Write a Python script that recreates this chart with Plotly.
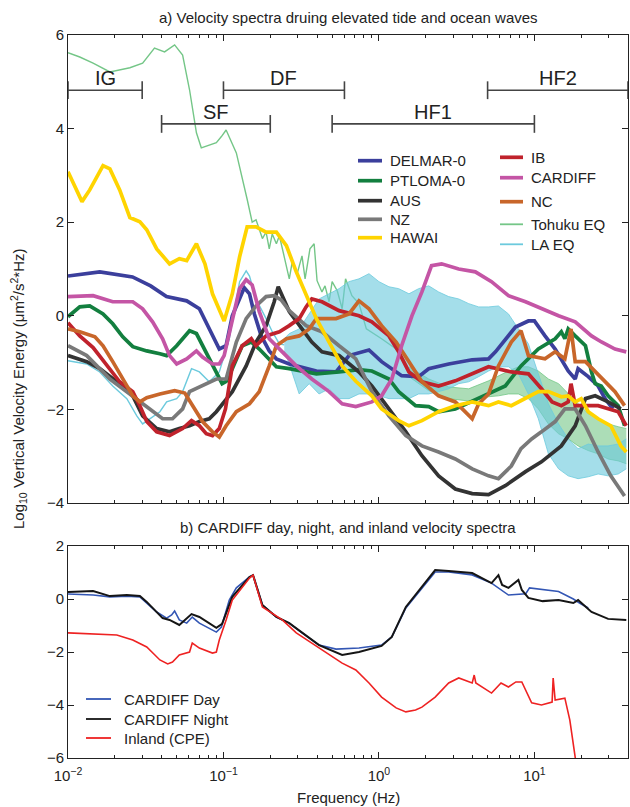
import math
import plotly.graph_objects as go

# ---------------- panel a: velocity spectra (log10 energy vs frequency in Hz) ----------------
DELMAR_F = [0.01, 0.016, 0.026, 0.034, 0.043, 0.058, 0.070, 0.081, 0.094, 0.104, 0.114, 0.136, 0.147,
            0.158, 0.175, 0.197, 0.219, 0.265, 0.294, 0.356, 0.396, 0.53, 0.642, 0.863, 1.04, 1.40,
            1.80, 2.09, 2.81, 3.98, 5.07, 5.62, 6.52, 7.55, 9.15, 10.0, 11.7, 13.6, 16.5, 18.3, 19.1,
            22.2, 25.7, 28.5, 32.0]
DELMAR_V = [0.85, 0.94, 0.83, 0.64, 0.41, 0.32, 0.15, -0.28, -0.71, -0.64, 0.0, 0.60, 0.47,
            0.04, -0.43, -0.75, -0.92, -1.03, -1.07, -1.13, -1.18, -1.20, -0.85, -0.73, -0.98, -1.28,
            -1.30, -1.13, -1.03, -0.94, -0.92, -0.77, -0.49, -0.24, -0.11, -0.11, -0.43, -0.71, -1.18,
            -1.35, -1.13, -1.30, -1.50, -1.77, -1.99]

PTLOMA_F = [0.01, 0.0119, 0.0138, 0.0168, 0.0194, 0.0225, 0.0261, 0.0321, 0.039, 0.0431, 0.050,
            0.0605, 0.067, 0.078, 0.090, 0.098, 0.104, 0.114, 0.132, 0.151, 0.170, 0.197, 0.219,
            0.265, 0.32, 0.396, 0.554, 0.744, 0.90, 1.16, 1.34, 1.72, 2.09, 2.42, 3.1, 3.98, 5.07,
            6.5, 8.2, 10.6, 13.6, 14.9, 15.7, 16.5, 18.3, 21.3, 23.3, 24.6, 26.9, 29.8, 34.6, 38.0]
PTLOMA_V = [-0.02, 0.19, 0.21, 0.04, -0.17, -0.45, -0.66, -0.75, -0.81, -0.85, -0.64,
            -0.32, -0.38, -0.81, -1.18, -1.45, -1.40, -1.13, -0.64, -0.56, -0.71, -0.92, -1.09,
            -1.13, -1.18, -1.24, -1.20, -1.15, -1.18, -1.35, -1.62, -1.92, -1.94, -2.05, -1.99,
            -1.82, -1.67, -1.50, -1.07, -0.71, -0.49, -0.34, -0.49, -0.28, -0.43, -0.64, -1.20,
            -1.45, -1.50, -1.71, -1.92, -2.35]

AUS_F = [0.01, 0.0132, 0.016, 0.0206, 0.0261, 0.0302, 0.0372, 0.045, 0.052, 0.0605, 0.070, 0.081,
         0.090, 0.114, 0.140, 0.162, 0.188, 0.212, 0.225, 0.265, 0.32, 0.37, 0.43, 0.554, 0.744,
         0.90, 1.16, 1.49, 1.89, 2.42, 3.1, 3.98, 5.07, 6.5, 8.77, 11.1, 14.9, 18.3, 21.3, 24.6,
         29.8, 36.0]
AUS_V = [-0.85, -0.98, -1.13, -1.41, -1.71, -2.14, -2.41, -2.48, -2.41, -2.35, -2.26, -2.20,
         -2.05, -1.62, -1.07, -0.56, -0.21, 0.30, 0.62, 0.09, -0.28, -0.56, -0.77, -0.85, -1.20,
         -1.50, -1.99, -2.48, -2.99, -3.42, -3.70, -3.80, -3.82, -3.63, -3.33, -3.12, -2.78, -2.35,
         -1.77, -1.71, -1.84, -1.99]

NZ_F = [0.01, 0.0132, 0.0186, 0.0261, 0.0336, 0.0406, 0.047, 0.0546, 0.0605, 0.0733, 0.090, 0.104,
        0.121, 0.140, 0.162, 0.188, 0.212, 0.235, 0.265, 0.34, 0.43, 0.554, 0.71, 0.90, 1.16, 1.49,
        1.89, 2.42, 3.1, 3.98, 5.07, 5.87, 7.1, 8.2, 9.6, 11.1, 13.6, 15.7, 18.3, 21.3, 25.7, 31.0,
        38.0]
NZ_V = [-0.64, -0.85, -1.35, -1.71, -1.99, -2.20, -2.20, -1.99, -1.62, -1.50, -1.35, -1.35,
        -0.56, -0.06, 0.21, 0.41, 0.43, 0.34, 0.11, -0.21, -0.34, -0.64, -0.92, -1.62, -2.14, -2.56,
        -2.78, -2.91, -3.06, -3.27, -3.42, -3.48, -3.21, -2.84, -2.63, -2.48, -2.26, -1.99, -1.99,
        -2.35, -2.91, -3.42, -3.85]

HAWAI_F = [0.01, 0.0123, 0.0138, 0.0168, 0.0186, 0.0215, 0.025, 0.029, 0.0321, 0.0372, 0.045, 0.052,
           0.058, 0.067, 0.076, 0.085, 0.101, 0.114, 0.127, 0.142, 0.162, 0.188, 0.219, 0.254, 0.294,
           0.34, 0.396, 0.478, 0.58, 0.71, 0.90, 1.04, 1.34, 1.56, 1.89, 2.42, 3.1, 3.98, 5.07, 5.87,
           7.1, 9.15, 10.6, 12.3, 14.9, 16.5, 18.3, 20.0, 22.2, 25.7, 31.0, 36.0, 39.0]
HAWAI_V = [3.08, 2.44, 2.69, 3.21, 3.14, 2.69, 2.10, 2.01, 1.84, 1.43, 1.11, 1.22,
           1.18, 1.54, 1.11, 0.47, -0.11, 0.47, 1.26, 1.90, 1.90, 1.79, 1.79, 1.50, 0.94,
           0.43, -0.06, -0.56, -1.07, -1.40, -1.71, -1.99, -2.24, -2.35, -2.24, -2.05, -1.92, -1.84,
           -1.92, -1.84, -1.92, -1.73, -1.62, -1.62, -1.73, -1.71, -1.84, -1.77, -2.05, -2.20,
           -2.35, -2.78, -2.91]

IB_F = [0.01, 0.0119, 0.0145, 0.0186, 0.0215, 0.0261, 0.029, 0.0321, 0.0372, 0.045, 0.0546, 0.0623,
        0.070, 0.0775, 0.085, 0.094, 0.103, 0.114, 0.132, 0.151, 0.162, 0.188, 0.229, 0.265, 0.307,
        0.34, 0.37, 0.43, 0.554, 0.744, 0.90, 1.16, 1.34, 1.56, 1.89, 2.42, 3.1, 3.98, 5.07, 7.1,
        9.15, 11.1, 13.0, 14.9, 16.5, 17.2, 18.3, 25.7, 29.8, 34.6, 39.0]
IB_V = [-0.15, -0.43, -0.68, -1.13, -1.41, -1.62, -1.92, -2.26, -2.48, -2.56, -2.41, -2.24,
        -2.35, -2.52, -2.56, -2.41, -1.99, -1.07, -0.64, -0.49, -0.64, -0.43, -0.34, -0.21, -0.06,
        0.19, 0.36, 0.30, 0.11, 0.0, -0.13, -0.43, -0.77, -1.20, -1.41, -1.50, -1.39, -1.24, -1.09,
        -1.20, -1.24, -1.56, -1.84, -1.92, -1.84, -1.45, -1.92, -1.92, -1.99, -2.05, -2.35]

CARDIFF_F = [0.01, 0.0145, 0.0194, 0.0261, 0.0302, 0.035, 0.0406, 0.045, 0.050, 0.058, 0.067,
             0.0733, 0.085, 0.094, 0.101, 0.114, 0.127, 0.140, 0.153, 0.170, 0.197, 0.239, 0.294,
             0.37, 0.478, 0.58, 0.71, 0.90, 1.04, 1.21, 1.40, 1.63, 1.89, 2.18, 2.53, 3.26, 4.17,
             5.3, 6.81, 8.77, 11.1, 14.3, 18.3, 23.3, 27.0, 33.0, 39.0]
CARDIFF_V = [0.41, 0.43, 0.30, 0.30, 0.15, -0.13, -0.49, -0.85, -1.03, -0.92, -0.75,
             -0.88, -1.03, -1.03, -0.85, -0.06, 0.58, 0.77, 0.66, 0.09, -0.49, -0.77, -1.07,
             -1.35, -1.62, -1.88, -1.94, -1.84, -1.71, -1.35, -0.64, 0.0, 0.51, 1.07, 1.11, 1.00,
             0.94, 0.73, 0.43, 0.30, 0.15, 0.0, -0.13, -0.43, -0.56, -0.71, -0.77]

NC_F = [0.01, 0.0119, 0.0149, 0.0168, 0.0194, 0.0225, 0.0261, 0.029, 0.0321, 0.039, 0.0485, 0.0564,
        0.063, 0.0733, 0.085, 0.094, 0.104, 0.121, 0.147, 0.170, 0.197, 0.219, 0.254, 0.307, 0.356,
        0.396, 0.53, 0.642, 0.744, 0.863, 1.04, 1.29, 1.56, 1.89, 2.42, 3.1, 3.98, 4.38, 5.07, 5.87,
        7.1, 8.2, 9.15, 11.7, 13.6, 15.7, 17.2, 18.3, 21.3, 24.6, 28.5, 33.0, 38.0]
NC_V = [-0.28, -0.34, -0.45, -0.64, -0.98, -1.35, -1.71, -1.84, -1.75, -1.67, -1.60, -1.65,
        -1.92, -2.26, -2.48, -2.59, -2.35, -2.05, -1.88, -1.62, -1.07, -0.64, -0.49, -0.43, -0.28,
        -0.06, -0.06, 0.04, 0.32, 0.15, -0.21, -0.56, -0.98, -1.41, -1.71, -1.84, -2.20, -1.88,
        -1.67, -1.07, -0.56, -0.32, -0.85, -0.92, -0.77, -0.92, -0.28, -0.98, -0.98, -1.20, -1.41,
        -1.62, -1.92]

# Tohuku EQ: single trace below 1.6 Hz, spread (upper / lower envelope) above it
TOHUKU_F = [0.01, 0.0119, 0.0145, 0.0186, 0.025, 0.0302, 0.036, 0.0418, 0.0485, 0.0546, 0.0605,
            0.067, 0.072, 0.081, 0.090, 0.097, 0.104, 0.121, 0.130, 0.142, 0.153, 0.162, 0.178,
            0.188, 0.197, 0.206, 0.219, 0.229, 0.246, 0.265, 0.277, 0.298, 0.32, 0.335, 0.36, 0.383,
            0.40, 0.43, 0.45, 0.478, 0.50, 0.54, 0.58, 0.61, 0.67, 0.744, 0.83, 0.93, 1.04, 1.29, 1.56]
TOHUKU_V = [5.62, 5.53, 5.40, 5.21, 5.30, 5.40, 5.72, 5.64, 5.79, 5.57, 4.83,
            3.91, 3.59, 3.65, 3.70, 3.83, 3.97, 3.48, 3.06, 2.49, 2.00, 2.05, 1.65,
            1.79, 1.43, 1.75, 1.54, 1.71, 1.26, 0.79, 1.15, 0.90, 1.28, 0.79, 1.43, 1.54,
            0.75, 0.51, 0.64, 0.30, 0.73, 0.53, 0.15, 0.79, 0.43, 0.26, -0.28, -0.38, -0.49, -0.71,
            -1.20]
TOHUKU_SPREAD_F = [1.56, 2.09, 2.81, 3.78, 5.07, 5.87, 6.81, 7.89, 9.15, 10.6, 12.3, 14.3, 16.5,
                   19.1, 22.2, 25.7, 29.8, 34.6, 39.0]
TOHUKU_HI = [-1.09, -1.35, -1.52, -1.56, -1.39, -1.28, -1.18, -1.09, -1.09, -1.18, -1.35, -1.45,
             -1.67, -1.88, -2.09, -2.20, -2.31, -2.37, -2.41]
TOHUKU_LO = [-1.30, -1.60, -1.77, -1.82, -1.73, -1.71, -1.67, -1.67, -1.77, -1.99, -2.31, -2.52,
             -2.63, -2.78, -2.88, -2.95, -3.06, -3.10, -3.16]

# LA EQ: single trace below 0.25 Hz, spread above it
LAEQ_F = [0.01, 0.0132, 0.016, 0.0194, 0.0239, 0.0277, 0.0302, 0.0336, 0.039, 0.0431, 0.050, 0.0546,
          0.0623, 0.070, 0.081, 0.094, 0.109, 0.127, 0.140, 0.147, 0.162, 0.188, 0.206, 0.229, 0.246]
LAEQ_V = [-0.96, -1.03, -1.20, -1.50, -1.77, -2.14, -2.31, -2.20, -2.05, -1.84, -1.77, -1.62,
          -1.13, -1.20, -1.41, -1.20, -0.49, 0.73, 0.96, 0.85, 0.36, -0.06, -0.34, -0.60, -0.62]
LAEQ_SPREAD_F = [0.246, 0.265, 0.307, 0.356, 0.412, 0.478, 0.554, 0.642, 0.744, 0.863, 1.0, 1.16,
                 1.34, 1.56, 1.80, 2.09, 2.42, 2.81, 3.26, 3.78, 4.38, 5.07, 5.87, 6.81, 7.89, 9.15,
                 10.6, 12.3, 14.3, 16.5, 19.1, 22.2, 25.7, 29.8, 34.6, 39.0]
LAEQ_HI = [-0.49, -0.38, -0.28, 0.04, 0.36, 0.47, 0.58, 0.73, 0.79, 0.90, 0.73, 0.62,
           0.58, 0.47, 0.58, 0.64, 0.51, 0.41, 0.36, 0.26, 0.19, 0.19, 0.21, 0.04, -0.28, -0.60,
           -1.24, -1.88, -2.31, -2.63, -2.84, -2.74, -2.78, -2.78, -2.74, -2.63]
LAEQ_LO = [-0.75, -1.03, -1.67, -1.45, -1.67, -1.56, -1.77, -1.77, -1.67, -1.67, -1.71, -1.77,
           -1.77, -1.77, -1.67, -1.67, -1.62, -1.56, -1.45, -1.41, -1.30, -1.18, -1.09, -1.09,
           -1.24, -1.67, -2.20, -2.95, -3.27, -3.42, -3.48, -3.44, -3.38, -3.42, -3.38, -3.27]

# frequency bands marked across the top of panel a
BAND_NAMES = ["IG", "SF", "DF", "HF1", "HF2"]
BAND_LO = [0.01, 0.04, 0.1, 0.5, 5.0]
BAND_HI = [0.03, 0.2, 0.6, 10.0, 40.0]
BAND_LEVEL = [4.82, 4.10, 4.82, 4.10, 4.82]

# ---------------- panel b: CARDIFF day / night and inland ----------------
DAY_F = [0.01, 0.0145, 0.0186, 0.0239, 0.029, 0.0321, 0.0372, 0.0431, 0.0464, 0.0485, 0.052, 0.058,
         0.063, 0.070, 0.0775, 0.090, 0.097, 0.109, 0.121, 0.147, 0.155, 0.178, 0.219, 0.265, 0.32,
         0.412, 0.53, 0.744, 1.04, 1.21, 1.49, 1.89, 2.30, 2.81, 3.98, 5.3, 6.81, 8.8, 9.3, 14.3,
         17.8, 19.5, 22.2]
DAY_V = [0.19, 0.15, 0.08, 0.11, 0.08, -0.15, -0.49, -0.72, -0.60, -0.45, -0.79, -0.91,
         -0.68, -0.91, -1.06, -1.25, -1.06, -0.04, 0.42, 0.83, 0.90, -0.23, -0.68, -0.91, -1.28,
         -1.74, -1.89, -1.85, -1.74, -1.43, -0.34, 0.42, 1.02, 1.02, 0.91, 0.60, 0.15, 0.20, 0.42,
         0.28, 0.0, -0.15, -0.34]

NIGHT_F = [0.01, 0.0145, 0.0186, 0.0239, 0.029, 0.0321, 0.0406, 0.045, 0.052, 0.0623, 0.070, 0.081,
           0.090, 0.098, 0.114, 0.147, 0.155, 0.178, 0.219, 0.265, 0.32, 0.412, 0.58, 0.744, 1.04,
           1.21, 1.49, 1.89, 2.30, 2.81, 3.98, 5.3, 5.87, 6.2, 6.81, 7.89, 8.3, 9.15, 11.3, 14.3,
           17.8, 19.1, 23.3, 29.8, 39.0]
NIGHT_V = [0.26, 0.30, 0.11, 0.15, 0.11, -0.11, -0.72, -0.79, -0.98, -0.57, -0.68, -0.91,
           -1.09, -0.94, 0.08, 0.83, 0.90, -0.23, -0.68, -0.91, -1.28, -1.74, -2.11, -2.00, -1.77,
           -1.43, -0.30, 0.45, 1.09, 1.06, 0.98, 0.60, 0.90, 0.53, 0.42, 0.72, 0.34, 0.04, -0.08,
           -0.04, -0.15, -0.04, -0.49, -0.75, -0.79]

INLAND_F = [0.01, 0.0206, 0.0261, 0.0321, 0.039, 0.0438, 0.047, 0.052, 0.0605, 0.063, 0.070, 0.0775,
            0.085, 0.090, 0.094, 0.104, 0.114, 0.147, 0.155, 0.178, 0.239, 0.294, 0.43, 0.58, 0.71,
            0.863, 1.04, 1.29, 1.49, 1.72, 1.89, 2.30, 2.81, 3.26, 3.98, 4.1, 4.2, 5.3, 6.1, 6.81,
            7.6, 8.3, 9.6, 11.1, 13.0, 13.2, 13.6, 15.7, 16.9, 18.3, 18.8]
INLAND_V = [-1.28, -1.36, -1.55, -1.81, -2.30, -2.45, -2.38, -2.11, -2.00, -1.66, -1.85, -1.96,
            -2.04, -2.00, -1.55, -0.79, -0.04, 0.79, 0.90, -0.30, -0.79, -1.28, -1.92, -2.42, -2.68,
            -3.17, -3.70, -4.11, -4.26, -4.19, -4.08, -3.70, -3.17, -2.98, -3.17, -2.87, -3.17,
            -3.55, -3.17, -3.32, -3.13, -3.13, -3.92, -4.00, -3.89, -2.98, -3.81, -3.74, -4.57,
            -5.81, -6.45]

# ---------------- styling ----------------
FONT = "Liberation Sans, Arial, Helvetica, sans-serif"
TXT = "#222222"
AXC = "#222222"

W, H = 630, 807
ML, MR, MT, MB = 68, 2, 35, 49
PW, PH = W - ML - MR, H - MT - MB


def px_x(px):
    return (px - ML) / PW


def px_y(py):
    return (H - MB - py) / PH


THICK = 3.7
THIN = 1.4

top_series = [
    ("DELMAR-0", DELMAR_F, DELMAR_V, "#3b3f9c"),
    ("PTLOMA-0", PTLOMA_F, PTLOMA_V, "#137f3f"),
    ("AUS", AUS_F, AUS_V, "#333333"),
    ("NZ", NZ_F, NZ_V, "#797979"),
    ("HAWAI", HAWAI_F, HAWAI_V, "#ffd400"),
    ("IB", IB_F, IB_V, "#c0222c"),
    ("CARDIFF", CARDIFF_F, CARDIFF_V, "#c455a5"),
    ("NC", NC_F, NC_V, "#c8662a"),
]
TOHUKU_COLOR = "#74c687"
LAEQ_COLOR = "#6ccadd"

fig = go.Figure()


def line(f, v, color, width, xa, ya):
    fig.add_trace(go.Scatter(x=f, y=v, mode="lines", line=dict(color=color, width=width),
                             xaxis=xa, yaxis=ya, showlegend=False, hoverinfo="skip"))


def spread(f, lo, hi, color, fill, xa, ya):
    fig.add_trace(go.Scatter(x=f, y=lo, mode="lines", line=dict(color=color, width=0.8),
                             xaxis=xa, yaxis=ya, showlegend=False, hoverinfo="skip"))
    fig.add_trace(go.Scatter(x=f, y=hi, mode="lines", line=dict(color=color, width=0.8),
                             fill="tonexty", fillcolor=fill,
                             xaxis=xa, yaxis=ya, showlegend=False, hoverinfo="skip"))


# earthquake references underneath
line(TOHUKU_F, TOHUKU_V, TOHUKU_COLOR, THIN, "x", "y")
spread(TOHUKU_SPREAD_F, TOHUKU_LO, TOHUKU_HI, TOHUKU_COLOR, "rgba(116,198,135,0.6)", "x", "y")
line(LAEQ_F, LAEQ_V, LAEQ_COLOR, THIN, "x", "y")
spread(LAEQ_SPREAD_F, LAEQ_LO, LAEQ_HI, LAEQ_COLOR, "rgba(108,202,221,0.62)", "x", "y")

# station spectra, drawn in stacking order
draw_order = ["DELMAR-0", "PTLOMA-0", "AUS", "NZ", "IB", "NC", "CARDIFF", "HAWAI"]
lookup = {s[0]: s for s in top_series}
for name in draw_order:
    _, f, v, c = lookup[name]
    line(f, v, c, THICK, "x", "y")

# band markers with end caps
CAP = 0.19
for name, lo, hi, lv in zip(BAND_NAMES, BAND_LO, BAND_HI, BAND_LEVEL):
    fig.add_trace(go.Scatter(
        x=[lo, hi, None, lo, lo, None, hi, hi],
        y=[lv, lv, None, lv - CAP, lv + CAP, None, lv - CAP, lv + CAP],
        mode="lines", line=dict(color="#444444", width=1.6), cliponaxis=False,
        xaxis="x", yaxis="y", showlegend=False, hoverinfo="skip"))

# panel b
line(DAY_F, DAY_V, "#3356b4", 1.6, "x2", "y2")
line(NIGHT_F, NIGHT_V, "#151515", 2.0, "x2", "y2")
line(INLAND_F, INLAND_V, "#ee2222", 1.6, "x2", "y2")

# ---------------- axes ----------------
x_major = [0.01, 0.1, 1, 10]
x_minor = [m * 10 ** e for e in (-2, -1, 0, 1) for m in range(2, 10) if m * 10 ** e <= 40]
xrange = [math.log10(0.01), math.log10(40)]

xbase = dict(type="log", range=xrange, showline=True, linecolor=AXC, linewidth=1,
             mirror="allticks", ticks="inside", ticklen=6, tickwidth=1, tickcolor=AXC,
             tickvals=x_major, showgrid=False, zeroline=False,
             minor=dict(ticks="inside", ticklen=3, tickwidth=1, tickcolor=AXC,
                        tickvals=x_minor, showgrid=False),
             tickfont=dict(family=FONT, size=15, color=TXT))
ybase = dict(showline=True, linecolor=AXC, linewidth=1, mirror="allticks", ticks="inside",
             ticklen=6, tickwidth=1, tickcolor=AXC, showgrid=False, zeroline=False,
             tickfont=dict(family=FONT, size=15, color=TXT))

top_dom = [px_y(503), 1.0]
bot_dom = [0.0, px_y(546)]

fig.update_layout(
    width=W, height=H,
    margin=dict(l=ML, r=MR, t=MT, b=MB),
    paper_bgcolor="white", plot_bgcolor="white",
    font=dict(family=FONT, color=TXT, size=15),
    xaxis=dict(xbase, anchor="y", domain=[0, 1], showticklabels=False),
    yaxis=dict(ybase, anchor="x", domain=top_dom, range=[-4, 6],
               tickvals=[-4, -2, 0, 2, 4, 6]),
    xaxis2=dict(xbase, anchor="y2", domain=[0, 1], ticklabelstandoff=4,
                ticktext=["10<sup>−2</sup>", "10<sup>−1</sup>", "10<sup>0</sup>", "10<sup>1</sup>"]),
    yaxis2=dict(ybase, anchor="x2", domain=bot_dom, range=[-6, 2],
                tickvals=[-6, -4, -2, 0, 2]),
)

annotations = []
shapes = []

# band labels (annotation x on a log axis is given as log10)
for name, lo, hi, lv in zip(BAND_NAMES, BAND_LO, BAND_HI, BAND_LEVEL):
    annotations.append(dict(x=(math.log10(lo) + math.log10(hi)) / 2, y=lv, xref="x", yref="y",
                            text=name, showarrow=False, yanchor="bottom", yshift=-1,
                            font=dict(family=FONT, size=20, color=TXT)))

# panel titles and axis titles
annotations += [
    dict(x=0.5, y=px_y(17), xref="paper", yref="paper", showarrow=False, yanchor="middle",
         text="a) Velocity spectra druing elevated tide and ocean waves",
         font=dict(family=FONT, size=15, color=TXT)),
    dict(x=0.5, y=px_y(527), xref="paper", yref="paper", showarrow=False, yanchor="middle",
         text="b) CARDIFF day, night, and inland velocity spectra",
         font=dict(family=FONT, size=15, color=TXT)),
    dict(x=0.5, y=px_y(797), xref="paper", yref="paper", showarrow=False, yanchor="middle",
         text="Frequency (Hz)", font=dict(family=FONT, size=15, color=TXT)),
    dict(x=px_x(18), y=px_y(389), xref="paper", yref="paper", showarrow=False,
         textangle=-90, xanchor="center", yanchor="middle",
         text="Log<sub>10</sub> Vertical Velocity Energy (μm<sup>2</sup>/s<sup>2</sup>*Hz)",
         font=dict(family=FONT, size=15, color=TXT)),
]

# legend of panel a (two columns)
legend_cols = [
    (top_series[:5], 358, 382, 388, [160.7, 180.7, 200.7, 219.3, 237.7]),
    (top_series[5:] + [("Tohuku EQ", None, None, TOHUKU_COLOR), ("LA EQ", None, None, LAEQ_COLOR)],
     500, 523, 529, [157.3, 177.7, 201.7, 224.3, 244.3]),
]
for entries, sx0, sx1, tx, rows in legend_cols:
    for (name, _f, _v, color), ry in zip(entries, rows):
        w = THIN + 0.4 if name.endswith("EQ") else THICK
        shapes.append(dict(type="line", xref="paper", yref="paper", x0=px_x(sx0), x1=px_x(sx1),
                           y0=px_y(ry), y1=px_y(ry), line=dict(color=color, width=w)))
        annotations.append(dict(x=px_x(tx), y=px_y(ry), xref="paper", yref="paper", text=name,
                                showarrow=False, xanchor="left", yanchor="middle",
                                font=dict(family=FONT, size=15, color=TXT)))

# legend of panel b
bottom_legend = [("CARDIFF Day", "#3356b4"), ("CARDIFF Night", "#151515"), ("Inland (CPE)", "#ee2222")]
for (name, color), ry in zip(bottom_legend, [699, 719, 738]):
    shapes.append(dict(type="line", xref="paper", yref="paper", x0=px_x(86), x1=px_x(111),
                       y0=px_y(ry), y1=px_y(ry), line=dict(color=color, width=1.8)))
    annotations.append(dict(x=px_x(122), y=px_y(ry), xref="paper", yref="paper", text=name,
                            showarrow=False, xanchor="left", yanchor="middle",
                            font=dict(family=FONT, size=15, color=TXT)))

fig.update_layout(annotations=annotations, shapes=shapes)

fig.write_html("out.html")
